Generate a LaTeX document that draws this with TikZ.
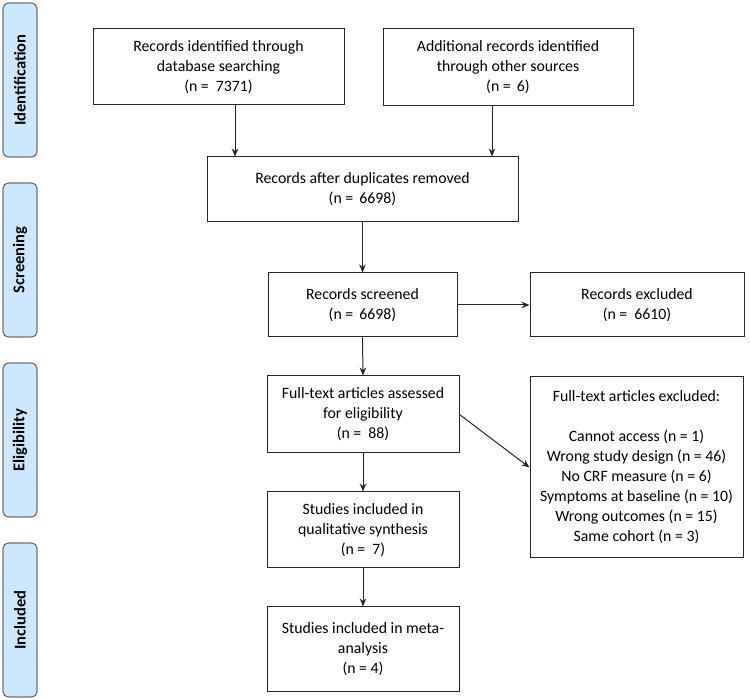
\documentclass[tikz,border=0pt]{standalone}
\usepackage{fontspec}
\setmainfont{Carlito}
\usetikzlibrary{positioning,arrows.meta}
\tikzset{>={Stealth[length=8pt,width=6.5pt]}}
\definecolor{phaseblue}{RGB}{204,232,255}
\tikzset{
  box/.style={draw=black!85, line width=1pt, align=center, inner sep=2pt,
              font=\fontsize{15.8}{20}\selectfont},
  phase/.style={draw=black!55, line width=1.2pt, fill=phaseblue, rounded corners=6pt,
                minimum width=34pt, minimum height=154pt, inner sep=0pt},
  phasetext/.style={rotate=90, font=\fontsize{16.5}{18}\selectfont\bfseries},
  flow/.style={->, line width=1pt, black!85}
}

\begin{document}
\begin{tikzpicture}[x=1pt,y=1pt]
    \useasboundingbox (0,0) rectangle (750,700);
    % phase labels on the left
    \node[phase] (ident) at (20,620) {};
    \node[phasetext] at (ident) {Identification};
    \node[phase] (scrn) at (20,440) {};
    \node[phasetext] at (scrn) {Screening};
    \node[phase] (elig) at (20,260) {};
    \node[phasetext] at (elig) {Eligibility};
    \node[phase] (incl) at (20,80) {};
    \node[phasetext] at (incl) {Included};
    % boxes
    \node[box, minimum width=251pt, minimum height=76pt] (db) at (218.5,633) {Records identified through\\database searching\\(n = \ 7371)};
    \node[box, minimum width=250pt, minimum height=77pt] (other) at (508,632.5) {Additional records identified\\through other sources\\(n = \,6)};
    \node[box, minimum width=311pt, minimum height=65pt] (dup) at (362.5,510.5) {Records after duplicates removed\\(n = \,6698)};
    \node[box, minimum width=189pt, minimum height=64pt] (screened) at (362.5,395) {Records screened\\(n = \,6698)};
    \node[box, minimum width=214pt, minimum height=64pt] (excl) at (637,395) {Records excluded\\(n = \ 6610)};
    \node[box, minimum width=192pt, minimum height=77pt] (full) at (363,285.5) {Full-text articles assessed\\for eligibility\\(n = \ 88)};
    \node[box, minimum width=213pt, minimum height=181pt] (fullexcl) at (636.5,232.5) {Full-text articles excluded:\\[20pt]Cannot access (n = 1)\\Wrong study design (n = 46)\\No CRF measure (n = 6)\\Symptoms at baseline (n = 10)\\Wrong outcomes (n = 15)\\Same cohort (n = 3)};
    \node[box, minimum width=192pt, minimum height=76pt] (qual) at (363,170) {Studies included in\\qualitative synthesis\\(n = \ 7)};
    \node[box, minimum width=192pt, minimum height=85pt] (meta) at (363,50.5) {Studies included in meta-\\analysis\\(n = 4)};
    % connectors
    \draw[flow] ([xshift=16.5pt]db.south) -- ([xshift=16.5pt]db.south |- dup.north);
    \draw[flow] ([xshift=-16pt]other.south) -- ([xshift=-16pt]other.south |- dup.north);
    \draw[flow] (dup.south) -- (screened.north);
    \draw[flow] (screened.east) -- (excl.west);
    \draw[flow] (screened.south) -- (full.north);
    \draw[flow] (full.east) -- (fullexcl.west);
    \draw[flow] (full.south) -- (qual.north);
    \draw[flow] (qual.south) -- (meta.north);
\end{tikzpicture}
\end{document}
